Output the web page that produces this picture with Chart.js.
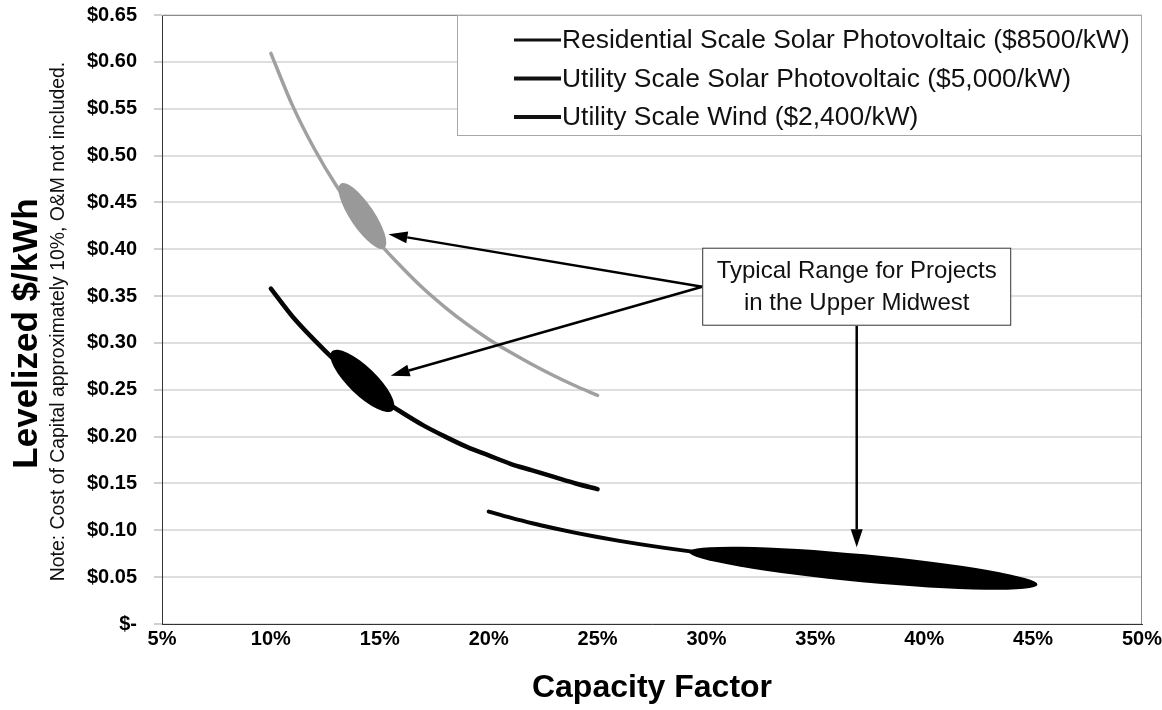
<!DOCTYPE html>
<html>
<head>
<meta charset="utf-8">
<title>Levelized cost by capacity factor</title>
<script src="https://cdn.jsdelivr.net/npm/chart.js@4.4.0/dist/chart.umd.min.js"></script>
<style>
  html, body { margin: 0; padding: 0; background: #ffffff; }
  #wrap { width: 1162px; height: 710px; }
</style>
</head>
<body>
<div id="wrap"><canvas id="chart" width="1162" height="710"></canvas></div>
<script>
// Capacity factor (%) and levelized cost ($/kWh) for each technology
const residentialCF = [10, 11, 12, 13, 14, 15, 16, 17, 18, 19, 20, 21, 22, 23, 24, 25];
const residentialCost = [0.609, 0.553, 0.507, 0.468, 0.435, 0.406, 0.381, 0.358, 0.338, 0.320, 0.304, 0.290, 0.277, 0.265, 0.254, 0.244];

const utilitySolarCF = [10, 11, 12, 13, 14, 15, 16, 17, 18, 19, 20, 21, 22, 23, 24, 25];
const utilitySolarCost = [0.358, 0.328, 0.303, 0.280, 0.259, 0.241, 0.226, 0.212, 0.200, 0.189, 0.180, 0.171, 0.164, 0.157, 0.150, 0.144];

const windCF = [20, 21, 22, 23, 24, 25, 26, 27, 28, 29, 30];
const windCost = [0.120, 0.1135, 0.1075, 0.1022, 0.0973, 0.0928, 0.0887, 0.0850, 0.0815, 0.0783, 0.0753];

const seriesNames = [
  'Residential Scale Solar Photovoltaic ($8500/kW)',
  'Utility Scale Solar Photovoltaic ($5,000/kW)',
  'Utility Scale Wind ($2,400/kW)'
];

// Typical Upper Midwest range per technology: [startCF, startCost, endCF, endCost]
const residentialRange = [13.2, 0.470, 15.2, 0.401];
const utilitySolarRange = [12.8, 0.291, 15.6, 0.228];
const windRange = [29.2, 0.077, 45.2, 0.042];

// Axis ticks
const xTickValues = [5, 10, 15, 20, 25, 30, 35, 40, 45, 50];
const xTickLabels = ['5%', '10%', '15%', '20%', '25%', '30%', '35%', '40%', '45%', '50%'];
const yTickValues = [0, 0.05, 0.10, 0.15, 0.20, 0.25, 0.30, 0.35, 0.40, 0.45, 0.50, 0.55, 0.60, 0.65];
const yTickLabels = ['$-', '$0.05', '$0.10', '$0.15', '$0.20', '$0.25', '$0.30', '$0.35', '$0.40', '$0.45', '$0.50', '$0.55', '$0.60', '$0.65'];

// Callout: box centre and arrow targets, in (CF, cost)
const calloutLines = ['Typical Range for Projects', 'in the Upper Midwest'];
const calloutCenter = [36.9, 0.36];
const calloutTargets = [[15.4, 0.416], [15.5, 0.265], [36.9, 0.082]];

const yTitle = 'Levelized $/kWh';
const yNote = 'Note: Cost of Capital approximately 10%, O&M not included.';
const xTitle = 'Capacity Factor';

const FONT = '"Liberation Sans", Arial, Helvetica, sans-serif';

function toPoints(xs, ys) { return xs.map((v, i) => ({ x: v, y: ys[i] })); }

// Filled ellipse along each curve marking the typical range
const rangePlugin = {
  id: 'typicalRange',
  afterDatasetsDraw(chart) {
    const { ctx, scales: { x, y } } = chart;
    chart.data.datasets.forEach(ds => {
      const r = ds.typicalRange;
      if (!r) return;
      const x1 = x.getPixelForValue(r[0]), y1 = y.getPixelForValue(r[1]);
      const x2 = x.getPixelForValue(r[2]), y2 = y.getPixelForValue(r[3]);
      const cx = (x1 + x2) / 2, cy = (y1 + y2) / 2;
      const half = Math.hypot(x2 - x1, y2 - y1) / 2;
      const ang = Math.atan2(y2 - y1, x2 - x1);
      ctx.save();
      ctx.fillStyle = ds.rangeColor;
      ctx.beginPath();
      ctx.ellipse(cx, cy, half, ds.rangeHalfWidth, ang, 0, Math.PI * 2);
      ctx.fill();
      ctx.restore();
    });
  }
};

function drawArrow(ctx, x1, y1, x2, y2, width, headLen, headHalf) {
  const a = Math.atan2(y2 - y1, x2 - x1);
  const bx = x2 - headLen * Math.cos(a), by = y2 - headLen * Math.sin(a);
  ctx.lineWidth = width;
  ctx.beginPath();
  ctx.moveTo(x1, y1);
  ctx.lineTo(bx, by);
  ctx.stroke();
  ctx.beginPath();
  ctx.moveTo(x2, y2);
  ctx.lineTo(bx + headHalf * Math.sin(a), by - headHalf * Math.cos(a));
  ctx.lineTo(bx - headHalf * Math.sin(a), by + headHalf * Math.cos(a));
  ctx.closePath();
  ctx.fill();
}

// Plot frame (top/right edges), callout box with arrows, legend box and y-axis titles
const decorPlugin = {
  id: 'decor',
  afterDraw(chart) {
    const { ctx, chartArea: ca, scales: { x, y } } = chart;
    ctx.save();

    // top and right frame edges
    ctx.strokeStyle = '#8a8a8a';
    ctx.lineWidth = 1;
    ctx.beginPath();
    ctx.moveTo(ca.left, ca.top + 0.5);
    ctx.lineTo(ca.right - 0.5, ca.top + 0.5);
    ctx.lineTo(ca.right - 0.5, ca.bottom);
    ctx.stroke();

    // callout box
    const bw = 309, bh = 78;
    const cx = x.getPixelForValue(calloutCenter[0]);
    const cy = y.getPixelForValue(calloutCenter[1]);
    const bl = cx - bw / 2, bt = cy - bh / 2;

    ctx.fillStyle = '#000';
    ctx.strokeStyle = '#000';
    calloutTargets.forEach((t, i) => {
      const tx = x.getPixelForValue(t[0]), ty = y.getPixelForValue(t[1]);
      if (i < 2) drawArrow(ctx, bl, cy, tx, ty, 2.5, 19, 6);
      else drawArrow(ctx, cx, bt + bh, tx, ty, 2.5, 18, 6);
    });

    ctx.fillStyle = '#fff';
    ctx.fillRect(bl, bt, bw, bh);
    ctx.strokeStyle = '#333';
    ctx.lineWidth = 1;
    ctx.strokeRect(bl + 0.5, bt + 0.5, bw - 1, bh - 1);
    ctx.fillStyle = '#111';
    ctx.font = '24px ' + FONT;
    ctx.textAlign = 'center';
    ctx.textBaseline = 'middle';
    ctx.fillText(calloutLines[0], cx, cy - 15);
    ctx.fillText(calloutLines[1], cx, cy + 17);

    // legend box
    const lw = 685, lh = 121;
    const ll = ca.right - lw, lt = ca.top;
    ctx.fillStyle = '#fff';
    ctx.fillRect(ll, lt, lw, lh);
    ctx.strokeStyle = '#a8a8a8';
    ctx.strokeRect(ll + 0.5, lt + 0.5, lw - 1, lh - 1);
    ctx.font = '26.4px ' + FONT;
    ctx.textAlign = 'left';
    ctx.textBaseline = 'middle';
    chart.data.datasets.forEach((ds, i) => {
      const ry = lt + 25 + i * 38.5;
      ctx.strokeStyle = '#111';
      ctx.lineWidth = ds.legendLineWidth;
      ctx.beginPath();
      ctx.moveTo(ll + 57, ry);
      ctx.lineTo(ll + 104, ry);
      ctx.stroke();
      ctx.fillStyle = '#111';
      ctx.fillText(ds.label, ll + 105, ry + 1);
    });

    // y-axis title and note (two lines, different fonts)
    const midY = (ca.top + ca.bottom) / 2;
    ctx.fillStyle = '#000';
    ctx.save();
    ctx.translate(37, midY + 14);
    ctx.rotate(-Math.PI / 2);
    ctx.font = 'bold 35px ' + FONT;
    ctx.textAlign = 'center';
    ctx.textBaseline = 'alphabetic';
    ctx.fillText(yTitle, 0, 0);
    ctx.restore();

    ctx.save();
    ctx.translate(64, midY + 2);
    ctx.rotate(-Math.PI / 2);
    ctx.font = '19.4px ' + FONT;
    ctx.textAlign = 'center';
    ctx.textBaseline = 'alphabetic';
    ctx.fillStyle = '#111';
    ctx.fillText(yNote, 0, 0);
    ctx.restore();

    ctx.restore();
  }
};

new Chart(document.getElementById('chart'), {
  type: 'line',
  data: {
    datasets: [
      {
        label: seriesNames[0],
        data: toPoints(residentialCF, residentialCost),
        borderColor: '#a0a0a0',
        borderWidth: 3.5,
        rangeColor: '#999999',
        rangeHalfWidth: 12,
        legendLineWidth: 3,
        typicalRange: residentialRange
      },
      {
        label: seriesNames[1],
        data: toPoints(utilitySolarCF, utilitySolarCost),
        borderColor: '#050505',
        borderWidth: 4.5,
        rangeColor: '#000000',
        rangeHalfWidth: 14,
        legendLineWidth: 4,
        typicalRange: utilitySolarRange
      },
      {
        label: seriesNames[2],
        data: toPoints(windCF, windCost),
        borderColor: '#050505',
        borderWidth: 4,
        rangeColor: '#000000',
        rangeHalfWidth: 14,
        legendLineWidth: 4,
        typicalRange: windRange
      }
    ]
  },
  options: {
    responsive: false,
    animation: false,
    elements: {
      point: { radius: 0 },
      line: { cubicInterpolationMode: 'monotone', borderCapStyle: 'round', fill: false }
    },
    layout: { padding: { left: 0, top: 15, right: 20, bottom: 0 } },
    scales: {
      x: {
        type: 'linear',
        min: 5,
        max: 50,
        afterBuildTicks: s => { s.ticks = xTickValues.map(v => ({ value: v })); },
        afterFit: s => { s.height = 86; s.paddingLeft = 0; s.paddingRight = 0; },
        ticks: {
          callback: (v, i) => xTickLabels[i],
          font: { family: FONT, size: 20, weight: 'bold' },
          color: '#000',
          padding: 3,
          maxRotation: 0,
          autoSkip: false
        },
        grid: { display: false, drawTicks: false },
        border: { color: '#333', width: 1 },
        title: {
          display: true,
          text: xTitle,
          font: { family: FONT, size: 32, weight: 'bold' },
          color: '#000',
          padding: { top: 0, bottom: 3 }
        }
      },
      y: {
        type: 'linear',
        min: 0,
        max: 0.65,
        afterBuildTicks: s => { s.ticks = yTickValues.map(v => ({ value: v })); },
        afterFit: s => { s.width = 162; s.paddingTop = 0; s.paddingBottom = 0; },
        ticks: {
          callback: (v, i) => yTickLabels[i],
          font: { family: FONT, size: 20, weight: 'bold' },
          color: '#000',
          padding: 17,
          autoSkip: false
        },
        grid: { color: '#dedede', lineWidth: 2, tickLength: 8, tickColor: '#d0d0d0' },
        border: { color: '#333', width: 1 }
      }
    },
    plugins: {
      legend: { display: false },
      tooltip: { enabled: false }
    }
  },
  plugins: [rangePlugin, decorPlugin]
});
</script>
</body>
</html>
